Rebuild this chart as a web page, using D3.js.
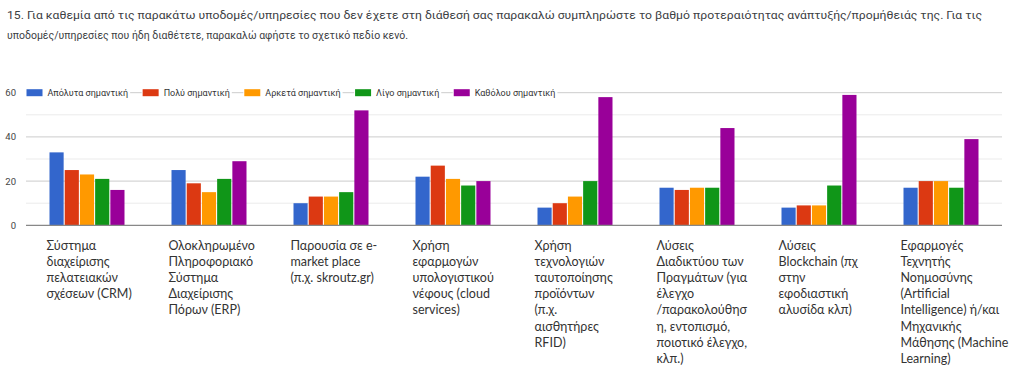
<!DOCTYPE html>
<html>
<head>
<meta charset="utf-8">
<script src="https://cdn.jsdelivr.net/npm/d3@7"></script>
<style>
  html, body { margin: 0; padding: 0; background: #fff; }
  svg { display: block; }
</style>
</head>
<body>
<svg id="chart" width="1024" height="384"></svg>
<script>
const titleLines = [
  "15. Για καθεμία από τις παρακάτω υποδομές/υπηρεσίες που δεν έχετε στη διάθεσή σας παρακαλώ συμπληρώστε το βαθμό προτεραιότητας ανάπτυξής/προμήθειάς της. Για τις",
  "υποδομές/υπηρεσίες που ήδη διαθέτετε, παρακαλώ αφήστε το σχετικό πεδίο κενό."
];

const categories = ["CRM", "ERP", "eMarket", "Cloud", "RFID", "IoT", "Blockchain", "AI"];

const categoryLabels = [
  ["Σύστημα", "διαχείρισης", "πελατειακών", "σχέσεων (CRM)"],
  ["Ολοκληρωμένο", "Πληροφοριακό", "Σύστημα", "Διαχείρισης", "Πόρων (ERP)"],
  ["Παρουσία σε e-", "market place", "(π.χ. skroutz.gr)"],
  ["Χρήση", "εφαρμογών", "υπολογιστικού", "νέφους (cloud", "services)"],
  ["Χρήση", "τεχνολογιών", "ταυτοποίησης", "προϊόντων", "(π.χ.", "αισθητήρες", "RFID)"],
  ["Λύσεις", "Διαδικτύου των", "Πραγμάτων (για", "έλεγχο", "/παρακολούθησ", "η, εντοπισμό,", "ποιοτικό έλεγχο,", "κλπ.)"],
  ["Λύσεις", "Blockchain (πχ", "στην", "εφοδιαστική", "αλυσίδα κλπ)"],
  ["Εφαρμογές", "Τεχνητής", "Νοημοσύνης", "(Artificial", "Intelligence) ή/και", "Μηχανικής", "Μάθησης (Machine", "Learning)"]
];

const seriesNames = ["Απόλυτα σημαντική", "Πολύ σημαντική", "Αρκετά σημαντική", "Λίγο σημαντική", "Καθόλου σημαντική"];
const seriesColors = ["#3366cc", "#dc3912", "#ff9900", "#109618", "#990099"];

const apolyta = [33, 25, 10, 22, 8, 17, 8, 17];
const poly    = [25, 19, 13, 27, 10, 16, 9, 20];
const arketa  = [23, 15, 13, 21, 13, 17, 9, 20];
const ligo    = [21, 21, 15, 18, 20, 17, 18, 17];
const katholou= [16, 29, 52, 20, 58, 44, 59, 39];
const seriesValues = [apolyta, poly, arketa, ligo, katholou];

const yTicks = [0, 20, 40, 60];
const yGrid = [0, 10, 20, 30, 40, 50, 60];

const svg = d3.select("#chart");
svg.append("rect").attr("width", 1024).attr("height", 384).attr("fill", "#fff");

// Title
const tl = [975, 401];
titleLines.forEach((t, i) => {
  svg.append("text")
    .attr("x", 7).attr("y", 19 + i * 20)
    .attr("font-family", "Roboto, 'Noto Sans', sans-serif")
    .attr("font-size", 11)
    .attr("fill", "#3c4043")
    .attr("textLength", tl[i])
    .attr("lengthAdjust", "spacingAndGlyphs")
    .text(t);
});

const left = 26, right = 1002;
const y = d3.scaleLinear().domain([0, 60]).range([225.3, 92.7]);
const x0 = d3.scaleBand().domain(categories).range([left, right]).paddingInner(0).paddingOuter(0);
const groupW = 75;
const x1 = d3.scaleBand().domain(d3.range(seriesNames.length)).range([0, groupW]).paddingInner(0.07);
const groupOff = (x0.bandwidth() - groupW) / 2;

// Gridlines
svg.append("g").selectAll("line").data(yGrid.filter(v => v !== 0)).join("line")
  .attr("x1", left).attr("x2", right)
  .attr("y1", d => y(d)).attr("y2", d => y(d))
  .attr("stroke", d => d % 20 === 0 ? "#cccccc" : "#ebebeb")
  .attr("stroke-width", 1);

// Y tick labels
svg.append("g").selectAll("text").data(yTicks).join("text")
  .attr("x", 16).attr("y", d => y(d) + 3.5)
  .attr("text-anchor", "end")
  .attr("font-family", "Roboto, sans-serif")
  .attr("font-size", 9.5)
  .attr("fill", "#444")
  .text(d => d);

// Bars
const gGroups = svg.append("g").selectAll("g").data(categories).join("g")
  .attr("transform", c => `translate(${x0(c) + groupOff},0)`);
gGroups.selectAll("rect")
  .data((c, ci) => seriesValues.map((vals, si) => ({ si, v: vals[ci] })))
  .join("rect")
  .attr("x", d => x1(d.si))
  .attr("width", x1.bandwidth())
  .attr("y", d => y(d.v))
  .attr("height", d => y(0) - y(d.v))
  .attr("fill", d => seriesColors[d.si]);

// Baseline
svg.append("line").attr("x1", left).attr("x2", right)
  .attr("y1", y(0)).attr("y2", y(0))
  .attr("stroke", "#888").attr("stroke-width", 1.2);

// Legend over the top gridline
const lg = svg.append("g");
let lx = 26.5;
const ly = y(60);
seriesNames.forEach((name, i) => {
  const item = lg.append("g");
  const bg = item.append("rect").attr("fill", "#fff");
  item.append("rect")
    .attr("x", lx).attr("y", ly - 3.5)
    .attr("width", 16).attr("height", 7)
    .attr("fill", seriesColors[i]);
  const t = item.append("text")
    .attr("x", lx + 21).attr("y", ly + 3.3)
    .attr("font-family", "Roboto, sans-serif")
    .attr("font-size", 9)
    .attr("fill", "#333")
    .text(name);
  const w = t.node().getComputedTextLength();
  bg.attr("x", lx - 1).attr("y", ly - 6).attr("width", 21 + w + 3).attr("height", 12);
  lx += 21 + w + 14.5;
});

// Category labels
const lblG = svg.append("g");
categories.forEach((c, ci) => {
  const t = lblG.append("text")
    .attr("font-family", "Lato, 'Open Sans', sans-serif")
    .attr("font-size", 12.5)
    .attr("fill", "#333");
  categoryLabels[ci].forEach((line, li) => {
    t.append("tspan")
      .attr("x", x0(c) + groupOff - 3)
      .attr("y", 249.5 + li * 16.2)
      .text(line);
  });
});
</script>
</body>
</html>
